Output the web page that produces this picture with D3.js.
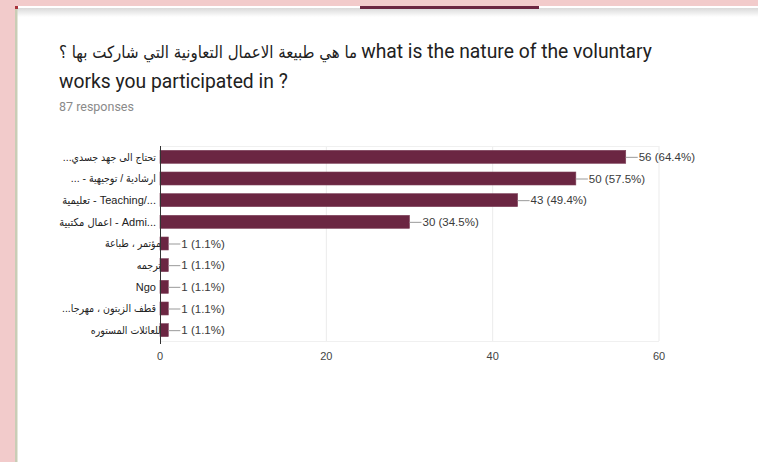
<!DOCTYPE html>
<html>
<head>
<meta charset="utf-8">
<script src="https://cdn.jsdelivr.net/npm/d3@7"></script>
<style>
  html, body { margin: 0; padding: 0; background: #f2cbcb; }
  svg { display: block; }
</style>
</head>
<body>
<svg width="758" height="462"></svg>
<script>
// survey answers, as shown on the chart
const categories = [
  "تحتاج الى جهد جسدي...",
  "ارشادية / توجيهية - ...",
  "تعليمية - Teaching/...",
  "اعمال مكتبية - Admi...",
  "مؤتمر ، طباعة",
  "ترجمه",
  "Ngo",
  "قطف الزيتون ، مهرجا...",
  "للعائلات المستوره"
]
const counts = [56, 50, 43, 30, 1, 1, 1, 1, 1]
const totalResponses = 87
const xTicks = [0, 20, 40, 60]

const titleArabic = "ما هي طبيعة الاعمال التعاونية التي شاركت بها ؟"
const titleLine1 = "what is the nature of the voluntary"
const titleLine2 = "works you participated in ?"

let svg = d3.select('svg')
const width = +svg.attr('width')
const height = +svg.attr('height')
const barColor = '#6b2642'
const labelFont = 'Arial, "Liberation Sans", "DejaVu Sans Condensed", sans-serif'

// card background + decorations
const defs = svg.append('defs')
const grad = defs.append('linearGradient').attr('id', 'shadow')
  .attr('x1', 0).attr('y1', 0).attr('x2', 0).attr('y2', 1)
grad.append('stop').attr('offset', 0).attr('stop-color', '#d9d9d9')
grad.append('stop').attr('offset', 1).attr('stop-color', '#ffffff')

svg.append('rect').attr('x', 17).attr('y', 6).attr('width', width - 17).attr('height', height - 6)
  .attr('fill', '#fff')
svg.append('rect').attr('x', 17).attr('y', 8).attr('width', width - 17).attr('height', 9)
  .attr('fill', 'url(#shadow)')
svg.append('rect').attr('x', 15).attr('y', 6).attr('width', 2.5).attr('height', height - 6)
  .attr('fill', '#c9cdb6')
svg.append('rect').attr('x', 15).attr('y', 6).attr('width', 3).attr('height', 3)
  .attr('fill', '#a8323a')
svg.append('rect').attr('x', 360).attr('y', 6).attr('width', 179).attr('height', 3)
  .attr('fill', '#6b2540')

// title: arabic part first, english continues after it
const title = svg.append('g').attr('fill', '#212121')
const arTitle = title.append('text').attr('x', 59).attr('y', 58)
  .attr('font-family', '"DejaVu Sans Condensed", "DejaVu Sans", sans-serif')
  .attr('font-size', 16.7).text(titleArabic)
const arWidth = arTitle.node().getComputedTextLength()
title.append('text').attr('x', 59 + arWidth + 4).attr('y', 58)
  .attr('font-family', 'Roboto, Arial, sans-serif').attr('font-size', 19.3)
  .text(titleLine1)
title.append('text').attr('x', 59).attr('y', 88)
  .attr('font-family', 'Roboto, Arial, sans-serif').attr('font-size', 19.3)
  .text(titleLine2)
svg.append('text').attr('x', 59).attr('y', 111)
  .attr('font-family', 'Roboto, Arial, sans-serif').attr('font-size', 12.5)
  .attr('fill', '#8a8a8a').text(totalResponses + ' responses')

// chart
const plot = { left: 160, right: 659, top: 146, bottom: 341 }

const x = d3.scaleLinear().domain([0, 60]).range([plot.left, plot.right])
const y = d3.scaleBand().domain(d3.range(categories.length))
  .range([plot.top, plot.bottom]).paddingInner(0.4).paddingOuter(0.2)

const chartG = svg.append('g').attr('font-family', labelFont)

// frame + grid
chartG.append('g').selectAll('line').data(xTicks.filter(t => t > 0)).join('line')
  .attr('x1', d => x(d)).attr('x2', d => x(d))
  .attr('y1', plot.top).attr('y2', plot.bottom)
  .attr('stroke', '#ebebeb')
chartG.append('line').attr('x1', plot.left).attr('x2', plot.right)
  .attr('y1', plot.top + 0.5).attr('y2', plot.top + 0.5).attr('stroke', '#f0f0f0')
chartG.append('line').attr('x1', plot.left).attr('x2', plot.right)
  .attr('y1', plot.bottom + 0.5).attr('y2', plot.bottom + 0.5).attr('stroke', '#f0f0f0')

// tick labels
chartG.append('g').selectAll('text').data(xTicks).join('text')
  .attr('x', d => x(d)).attr('y', 360)
  .attr('text-anchor', 'middle').attr('font-size', 11).attr('fill', '#444')
  .text(d => d)

// bars
chartG.append('g').selectAll('rect').data(counts).join('rect')
  .attr('x', x(0)).attr('y', (d, i) => y(i))
  .attr('width', d => x(d) - x(0)).attr('height', y.bandwidth())
  .attr('fill', barColor).attr('stroke', '#7d4058').attr('stroke-width', 0.6)

// leader lines + value labels
chartG.append('g').selectAll('line').data(counts).join('line')
  .attr('x1', d => x(d)).attr('x2', d => x(d) + 12)
  .attr('y1', (d, i) => y(i) + y.bandwidth() / 2 + 0.5)
  .attr('y2', (d, i) => y(i) + y.bandwidth() / 2 + 0.5)
  .attr('stroke', '#999')
chartG.append('g').selectAll('text').data(counts).join('text')
  .attr('x', d => x(d) + 13)
  .attr('y', (d, i) => y(i) + y.bandwidth() / 2)
  .attr('dy', '0.35em').attr('font-size', 11.5).attr('fill', '#3a3a3a')
  .text(d => `${d} (${(d / totalResponses * 100).toFixed(1)}%)`)

// category labels
const arabic = /[\u0600-\u06FF]/
const latin = /[A-Za-z]/
chartG.append('g').selectAll('text').data(categories).join('text')
  .attr('x', d => (arabic.test(d) && !d.includes('...')) ? plot.left + 1 : plot.left - 4)
  .attr('y', (d, i) => y(i) + y.bandwidth() / 2)
  .attr('dy', '0.35em').attr('text-anchor', 'end')
  .attr('font-size', d => (arabic.test(d) && !latin.test(d)) ? 10.5 : 11)
  .attr('fill', '#222')
  .text(d => (arabic.test(d) && !latin.test(d)) ? '\u202B' + d + '\u202C' : d)

// axis line
chartG.append('line').attr('x1', plot.left + 0.5).attr('x2', plot.left + 0.5)
  .attr('y1', plot.top).attr('y2', plot.bottom + 3)
  .attr('stroke', '#333')
</script>
</body>
</html>
